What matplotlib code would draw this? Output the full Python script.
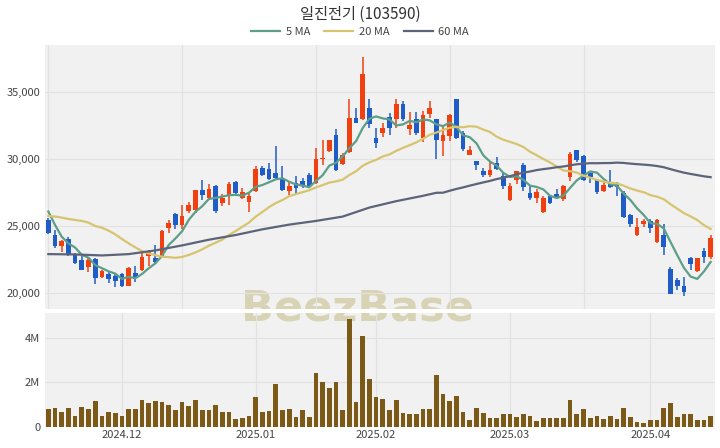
import numpy as np
import pandas as pd
import matplotlib
matplotlib.use("Agg")
import matplotlib.pyplot as plt
from matplotlib.lines import Line2D
from matplotlib.ticker import FuncFormatter

plt.rcParams['font.family'] = ['Noto Sans CJK KR', 'DejaVu Sans']

# DATA
#################################
opens = [25500, 24350, 23525, 24025, 22850, 22475, 21975, 22525, 21225, 21475,
         21275, 21475, 20525, 21525, 21775, 22775, 22600, 22725, 24850, 25900,
         25100, 26175, 26225, 27675, 27100, 28025, 26775, 27225, 28275, 27100,
         26850, 27600, 29350, 29275, 28975, 28525, 27600, 28225, 28350, 28850,
         28225, 30000, 30600, 31850, 29675, 30525, 33100, 32975, 33850, 31600,
         31975, 33175, 32975, 34100, 32225, 33025, 31600, 33350, 32975, 31350,
         31725, 34475, 31925, 30350, 29850, 29100, 28850, 29725, 28725, 26975,
         28475, 29600, 27475, 27100, 26100, 27275, 27425, 27025, 28675, 30675,
         30275, 28975, 28425, 27600, 28225, 28175, 27475, 25850, 24350, 25175,
         25425, 23850, 24350, 21850, 20975, 20525, 22600, 21675, 23175, 22725]
highs = [25600, 24725, 23975, 24175, 22975, 22775, 22600, 22600, 21725, 21600,
         21475, 21525, 21975, 22025, 22975, 23225, 23600, 24725, 25475, 26025,
         26600, 26850, 27725, 28425, 28175, 28100, 27425, 28275, 28350, 27850,
         27525, 29475, 29475, 29725, 30975, 29475, 28350, 28725, 28600, 28975,
         30850, 31475, 31475, 32225, 30475, 34525, 33850, 37600, 34475, 32350,
         32725, 33475, 34475, 34350, 33525, 33525, 33600, 34350, 33025, 32425,
         33350, 34475, 32100, 31025, 29850, 29350, 29775, 30175, 29025, 28225,
         29150, 29725, 27975, 27775, 27225, 27350, 27775, 28100, 30525, 30725,
         30350, 29100, 28525, 28350, 29225, 28275, 27600, 25925, 25600, 25525,
         25525, 25525, 25175, 21975, 21175, 21225, 22725, 22600, 23350, 24350]
lows = [24450, 23350, 23100, 22775, 22175, 21725, 21600, 20725, 21175, 20775,
        20475, 20475, 20525, 20850, 21675, 22025, 22275, 22675, 24525, 24775,
        24775, 25975, 25975, 26975, 27025, 25975, 26550, 26600, 27350, 27025,
        26100, 27525, 28725, 28425, 28475, 27600, 27350, 27350, 27850, 27850,
        28175, 29600, 30525, 29100, 29600, 30475, 32675, 32925, 32350, 30850,
        31675, 31850, 32350, 32850, 31850, 31850, 31275, 33100, 30025, 30275,
        31350, 31525, 30600, 30350, 29175, 28675, 28675, 29175, 27775, 26925,
        28175, 27600, 26975, 26725, 26025, 26675, 27025, 26925, 28350, 29775,
        28350, 28225, 27425, 27525, 27850, 27225, 25600, 24975, 24275, 24975,
        24475, 23725, 22850, 19925, 20225, 19775, 21725, 21600, 22275, 22525]
closes = [24500, 23525, 23925, 22850, 22275, 21775, 22475, 21175, 21675, 21100,
          20925, 20525, 21900, 21175, 22675, 23075, 22350, 24675, 25275, 25100,
          25775, 26600, 27675, 27350, 27800, 26175, 27100, 28175, 27475, 27525,
          27275, 29275, 28850, 28525, 28600, 27675, 27975, 27850, 28100, 27975,
          30025, 30100, 31425, 29175, 30350, 33100, 32725, 36350, 32600, 31225,
          32350, 32350, 34100, 32975, 32525, 31925, 33275, 33850, 31475, 31850,
          33275, 31600, 30775, 30725, 29600, 28850, 29225, 29275, 28025, 28025,
          29100, 27925, 27100, 27525, 27100, 26725, 27100, 27975, 30425, 29925,
          28475, 28675, 27525, 28100, 27925, 27925, 25725, 25175, 24975, 25425,
          24850, 25475, 23475, 19975, 20525, 20100, 22175, 22600, 22725, 24100]
volume_m = [0.83, 0.87, 0.68, 0.87, 0.50, 0.89, 0.81, 1.17, 0.48, 0.68,
            0.63, 0.50, 0.81, 0.81, 1.20, 1.10, 1.17, 1.14, 0.99, 0.78,
            1.14, 0.93, 1.23, 0.78, 0.78, 0.98, 0.69, 0.69, 0.38, 0.41,
            0.48, 1.35, 0.68, 0.71, 1.92, 0.78, 0.80, 0.45, 0.78, 0.45,
            2.44, 2.03, 1.76, 2.00, 0.75, 4.84, 1.13, 4.09, 2.14, 1.35,
            1.25, 0.75, 1.20, 0.65, 0.57, 0.57, 0.83, 0.83, 2.33, 1.46,
            1.17, 1.41, 0.66, 0.33, 0.86, 0.63, 0.42, 0.42, 0.59, 0.59,
            0.44, 0.60, 0.51, 0.27, 0.39, 0.39, 0.39, 0.41, 1.23, 0.59,
            0.81, 0.39, 0.48, 0.38, 0.48, 0.35, 0.87, 0.47, 0.24, 0.20,
            0.33, 0.33, 0.86, 1.08, 0.45, 0.60, 0.60, 0.33, 0.33, 0.48]

# moving averages before enough days are in the window
ma5_head = [26100, 25100, 24225, 23725]
ma20_head = [25775, 25725, 25650, 25550, 25475, 25400, 25275, 25025, 24900, 24675,
             24400, 24050, 23725, 23425, 23150, 22975, 22850, 22725, 22700]
ma60_head_idx = [0, 4, 8, 12, 16, 20, 24, 28, 32, 36, 40, 44, 48, 52, 56, 58]
ma60_head = [22925, 22900, 22825, 22925, 23200, 23575, 24000, 24350, 24775, 25125,
             25400, 25725, 26400, 26875, 27275, 27500]

month_idx = [11, 31, 49, 69, 90]
month_labels = ["2024.12", "2025.01", "2025.02", "2025.03", "2025.04"]

TITLE = "일진전기 (103590)"

UP = "#f0400f"
DOWN = "#1f5cc8"
VOL = "#7a5a16"
C5, C20, C60 = "#5c9e88", "#d6c46e", "#5c6479"
BG = "#f1f1f1"
GRID = "#e2e2e2"
TXT = "#444444"

# MOVING AVERAGES
#################################
s = pd.Series(closes, dtype=float)
x = np.arange(len(closes))
ma5 = s.rolling(5).mean().to_numpy()
ma5[:len(ma5_head)] = ma5_head
ma20 = s.rolling(20).mean().to_numpy()
ma20[:len(ma20_head)] = ma20_head
ma60 = s.rolling(60).mean().to_numpy()
ma60_x = np.concatenate([ma60_head_idx, x[59:]])
ma60_y = np.concatenate([ma60_head, ma60[59:]])

# FIGURE
#################################
fig = plt.figure(figsize=(7.2, 4.48), dpi=100)
ax = fig.add_axes([0.0625, 0.3103, 0.9305, 0.5893])
axv = fig.add_axes([0.0625, 0.0469, 0.9305, 0.2544])

for a in (ax, axv):
    a.set_facecolor(BG)
    for sp in a.spines.values():
        sp.set_visible(False)
    a.set_axisbelow(True)
    a.grid(True, color=GRID, linewidth=0.9)
    a.tick_params(length=0, colors=TXT, labelsize=8)
    a.set_xlim(-0.5, 99.65)
    a.text(0.496, 0.3114, "BeezBase", transform=fig.transFigure, ha="center",
           va="center", fontsize=31, fontweight="bold", color="#d9d3b5",
           family="DejaVu Sans", clip_on=True, zorder=0.3)

# candles
o = np.array(opens)
c = np.array(closes)
col = np.where(c >= o, UP, DOWN)
ax.vlines(x, lows, highs, colors=col, linewidth=1.1, zorder=2)
ax.bar(x, np.maximum(np.abs(c - o), 40), bottom=np.minimum(o, c), width=0.7,
       color=col, zorder=3)

ax.plot(x, ma5, color=C5, linewidth=1.6, zorder=4)
ax.plot(x, ma20, color=C20, linewidth=1.6, zorder=4)
ax.plot(ma60_x, ma60_y, color=C60, linewidth=1.6, zorder=4)

ax.set_ylim(18830, 38530)
ax.set_yticks([20000, 25000, 30000, 35000])
ax.yaxis.set_major_formatter(FuncFormatter(lambda v, p: f"{v:,.0f}"))
ax.set_xticks([0, 20, 40, 60, 80])
ax.set_xticklabels([])

# volume
axv.bar(x, volume_m, width=0.7, color=VOL, zorder=3)
axv.set_ylim(0, 5.12)
axv.set_yticks([0, 2, 4])
axv.yaxis.set_major_formatter(FuncFormatter(lambda v, p: "0" if v == 0 else f"{v:.0f}M"))
axv.set_xticks(month_idx)
axv.set_xticklabels(month_labels)
axv.tick_params(axis="x", pad=2)

# title and legend
fig.text(0.5, 1 - 14 / 448, TITLE, ha="center", va="center", fontsize=11, color="#333333")
handles = [Line2D([], [], color=C5, linewidth=1.6),
           Line2D([], [], color=C20, linewidth=1.6),
           Line2D([], [], color=C60, linewidth=1.6)]
fig.legend(handles, ["5 MA", "20 MA", "60 MA"], loc="center",
           bbox_to_anchor=(0.5, 1 - 32 / 448), ncol=3, frameon=False, fontsize=8,
           handlelength=2.6, columnspacing=1.3, handletextpad=0.5,
           labelcolor=TXT)

fig.savefig("out.png", dpi=100)
